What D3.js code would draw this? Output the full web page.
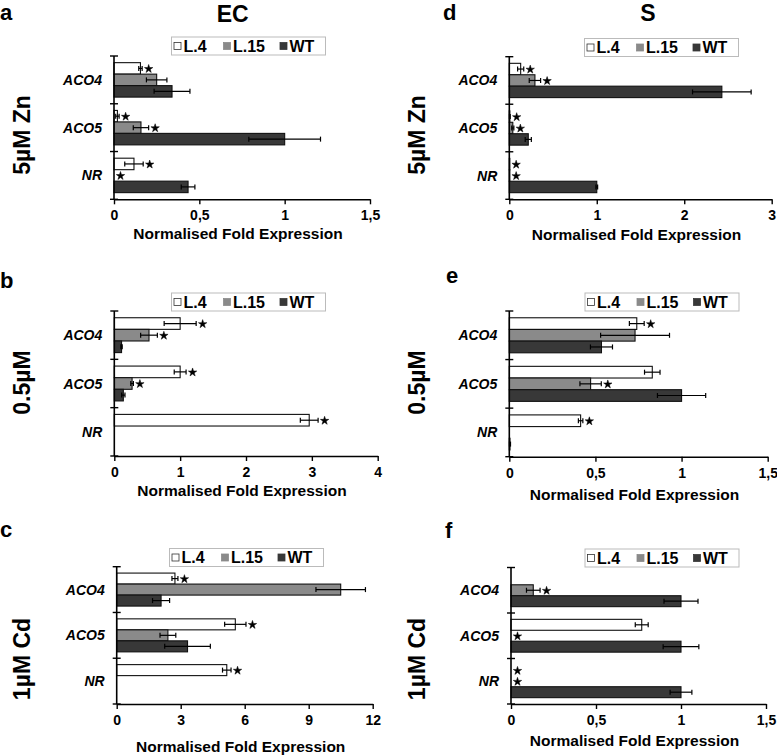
<!DOCTYPE html>
<html><head><meta charset="utf-8">
<script src="https://cdn.jsdelivr.net/npm/d3@7"></script>
<style>
body{margin:0;background:#fff;}
svg{display:block;font-family:"Liberation Sans",Arial,Helvetica,sans-serif;font-weight:bold;}
</style>
</head><body><svg id="chart" width="777" height="756"></svg>
<script>
// ---------- data ----------
const categories = ["ACO4", "ACO5", "NR"];
const series = ["L.4", "L.15", "WT"];
const columnTitles = ["EC", "S"];
const rowLabels = ["5µM Zn", "0.5µM", "1µM Cd"];
const panelLetters = ["a", "b", "c", "d", "e", "f"];
const axisTitle = "Normalised Fold Expression";

// tick values and labels
const ticksA = [0, 0.5, 1, 1.5];  const tickLabelsA = ["0", "0,5", "1", "1,5"];
const ticksB = [0, 1, 2, 3, 4];   const tickLabelsB = ["0", "1", "2", "3", "4"];
const ticksC = [0, 3, 6, 9, 12];  const tickLabelsC = ["0", "3", "6", "9", "12"];
const ticksD = [0, 1, 2, 3];      const tickLabelsD = ["0", "1", "2", "3"];
const ticksE = [0, 0.5, 1, 1.5];  const tickLabelsE = ["0", "0,5", "1", "1,5"];
const ticksF = [0, 0.5, 1, 1.5];  const tickLabelsF = ["0", "0,5", "1", "1,5"];

// rows: L.4, L.15, WT ; columns: ACO4, ACO5, NR
const meanA = [[0.155, 0.02, 0.117], [0.25, 0.158, 0], [0.34, 1.0, 0.434]];
const errA  = [[0.01, 0.01, 0.054], [0.06, 0.045, 0], [0.105, 0.21, 0.04]];
const starA = [[1, 1, 1], [0, 1, 1], [0, 0, 0]];

const meanB = [[1.0, 1.0, 2.96], [0.527, 0.27, 0], [0.11, 0.137, 0]];
const errB  = [[0.243, 0.09, 0.135], [0.127, 0.02, 0], [0.01, 0.025, 0]];
const starB = [[1, 1, 1], [1, 1, 0], [0, 0, 0]];

const meanC = [[2.73, 5.56, 5.16], [10.5, 2.4, 0], [2.08, 3.32, 0]];
const errC  = [[0.14, 0.5, 0.2], [1.16, 0.37, 0], [0.4, 1.07, 0]];
const starC = [[1, 1, 1], [0, 0, 0], [0, 0, 0]];

const meanD = [[0.13, 0.006, 0.004], [0.293, 0.04, 0.004], [2.43, 0.217, 1.0]];
const errD  = [[0.035, 0.004, 0], [0.065, 0.012, 0], [0.335, 0.035, 0.01]];
const starD = [[1, 1, 1], [1, 1, 1], [0, 0, 0]];

const meanE = [[0.74, 0.83, 0.414], [0.73, 0.472, 0], [0.535, 1.0, 0.004]];
const errE  = [[0.043, 0.045, 0.013], [0.2, 0.062, 0], [0.064, 0.14, 0.003]];
const starE = [[1, 0, 1], [0, 1, 0], [0, 0, 0]];

const meanF = [[0, 0.769, 0], [0.131, 0, 0], [1.0, 1.0, 1.0]];
const errF  = [[0, 0.038, 0], [0.04, 0, 0], [0.1, 0.105, 0.064]];
const starF = [[0, 0, 1], [1, 1, 1], [0, 0, 0]];

const seriesColors = ["#ffffff", "#8a8a8a", "#383838"];

// ---------- layout (positions only) ----------
const panels = [
  {letter: panelLetters[0], mean: meanA, err: errA, star: starA, ticks: ticksA, tl: tickLabelsA,
   x0: 114, x1: 370, top: 56, bottom: 199.3, legL: 171.5, legT: 37, titleY: 238.5, letX: 0, letY: 20},
  {letter: panelLetters[1], mean: meanB, err: errB, star: starB, ticks: ticksB, tl: tickLabelsB,
   x0: 114.3, x1: 377.7, top: 311, bottom: 456, legL: 171.5, legT: 293, titleY: 496, letX: 0, letY: 288},
  {letter: panelLetters[2], mean: meanC, err: errC, star: starC, ticks: ticksC, tl: tickLabelsC,
   x0: 116.7, x1: 372.7, top: 566.7, bottom: 704, legL: 169.5, legT: 548.5, titleY: 752, letX: 0, letY: 537},
  {letter: panelLetters[3], mean: meanD, err: errD, star: starD, ticks: ticksD, tl: tickLabelsD,
   x0: 509.3, x1: 771.7, top: 56.7, bottom: 199.3, legL: 584.5, legT: 38.5, titleY: 240, letX: 443, letY: 20},
  {letter: panelLetters[4], mean: meanE, err: errE, star: starE, ticks: ticksE, tl: tickLabelsE,
   x0: 509.3, x1: 767.7, top: 311, bottom: 456.7, legL: 585, legT: 293, titleY: 500, letX: 446, letY: 283},
  {letter: panelLetters[5], mean: meanF, err: errF, star: starF, ticks: ticksF, tl: tickLabelsF,
   x0: 511, x1: 766, top: 567.5, bottom: 704, legL: 585, legT: 549, titleY: 746, letX: 445, letY: 538}
];

const svg = d3.select("#chart");

// column titles
svg.append("text").attr("x", 232.7).attr("y", 21.5).attr("text-anchor", "middle")
  .attr("font-size", 23).text(columnTitles[0]);
svg.append("text").attr("x", 648).attr("y", 21).attr("text-anchor", "middle")
  .attr("font-size", 23).text(columnTitles[1]);

// row labels (rotated)
const rowCenters = [135, 382.5, 659];
[30, 424.5].forEach(bx => {
  rowLabels.forEach((lab, i) => {
    svg.append("text")
      .attr("transform", `translate(${bx},${rowCenters[i]}) rotate(-90)`)
      .attr("text-anchor", "middle").attr("font-size", 23).text(lab);
  });
});

const star = d3.symbol().type(d3.symbolStar).size(22);

panels.forEach(p => {
  const g = svg.append("g");
  const max = p.ticks[p.ticks.length - 1];
  const x = d3.scaleLinear().domain([0, max]).range([p.x0, p.x1]);
  const y0 = d3.scaleBand().domain(categories).range([p.top, p.bottom]).padding(0);
  const y1 = d3.scaleBand().domain(series).range([0, y0.bandwidth()]).paddingInner(0).paddingOuter(0.58);
  const h = y1.bandwidth();

  // panel letter
  svg.append("text").attr("x", p.letX).attr("y", p.letY).attr("font-size", 22).text(p.letter);

  // bars, error bars, stars
  series.forEach((s, si) => {
    categories.forEach((c, ci) => {
      const v = p.mean[si][ci], e = p.err[si][ci];
      const yy = y0(c) + y1(s);
      const yc = yy + h / 2;
      if (v > 0) {
        g.append("rect").attr("x", x(0)).attr("y", yy)
          .attr("width", Math.max(0.5, x(v) - x(0))).attr("height", h)
          .attr("fill", seriesColors[si]).attr("stroke", "#111").attr("stroke-width", 1.1);
      }
      if (e > 0) {
        const lo = Math.max(0, v - e), hi = v + e;
        g.append("line").attr("x1", x(lo)).attr("x2", x(hi)).attr("y1", yc).attr("y2", yc)
          .attr("stroke", "#000").attr("stroke-width", 1.2);
        [lo, hi].forEach(t => {
          g.append("line").attr("x1", x(t)).attr("x2", x(t)).attr("y1", yc - 2.5).attr("y2", yc + 2.5)
            .attr("stroke", "#000").attr("stroke-width", 1.2);
        });
      }
      if (p.star[si][ci]) {
        const sx = x(v + e) + 6.5;
        g.append("path").attr("d", star).attr("transform", `translate(${sx},${yc + 0.5})`)
          .attr("fill", "#000").attr("stroke", "#000").attr("stroke-width", 0.5).attr("stroke-linejoin", "round");
      }
    });
  });

  // x axis
  const xa = g.append("g").attr("transform", `translate(0,${p.bottom})`)
    .call(d3.axisBottom(x).tickValues(p.ticks).tickFormat((d, i) => p.tl[i])
      .tickSize(5).tickSizeOuter(0).tickPadding(6));
  xa.select(".domain").attr("stroke", "#000").attr("stroke-width", 1.6);
  xa.selectAll(".tick line").attr("stroke", "#000").attr("stroke-width", 1.4);
  xa.selectAll(".tick text").attr("font-size", 14).attr("font-weight", "bold")
    .attr("font-family", '"Liberation Sans",Arial,sans-serif').attr("fill", "#000");

  // y axis (line with cross ticks at category boundaries)
  g.append("line").attr("x1", p.x0).attr("x2", p.x0).attr("y1", p.top).attr("y2", p.bottom)
    .attr("stroke", "#000").attr("stroke-width", 1.6);
  const bounds = categories.map(c => y0(c)).concat([p.bottom]);
  bounds.forEach(b => {
    g.append("line").attr("x1", p.x0 - 4).attr("x2", p.x0 + 4).attr("y1", b).attr("y2", b)
      .attr("stroke", "#000").attr("stroke-width", 1.4);
  });
  // category labels
  categories.forEach(c => {
    g.append("text").attr("x", p.x0 - 12).attr("y", y0(c) + y0.bandwidth() / 2 + 5)
      .attr("text-anchor", "end").attr("font-size", 14).attr("font-style", "italic").text(c);
  });

  // axis title
  g.append("text").attr("x", (p.x0 + p.x1) / 2 - 4).attr("y", p.titleY)
    .attr("text-anchor", "middle").attr("font-size", 15.5).text(axisTitle);

  // legend
  const lg = g.append("g").attr("transform", `translate(${p.legL},${p.legT})`);
  lg.append("rect").attr("x", 0).attr("y", 0).attr("width", 154).attr("height", 18)
    .attr("fill", "#fff").attr("stroke", "#bbb").attr("stroke-width", 1);
  const offs = [2.5, 52, 108.5];
  series.forEach((s, si) => {
    lg.append("rect").attr("x", offs[si]).attr("y", 5.5).attr("width", 7).attr("height", 7)
      .attr("fill", seriesColors[si]).attr("stroke", si === 0 ? "#333" : seriesColors[si]).attr("stroke-width", 0.8);
    lg.append("text").attr("x", offs[si] + 9.5).attr("y", 14.5).attr("font-size", 16).text(s);
  });
});
</script>
</body></html>
